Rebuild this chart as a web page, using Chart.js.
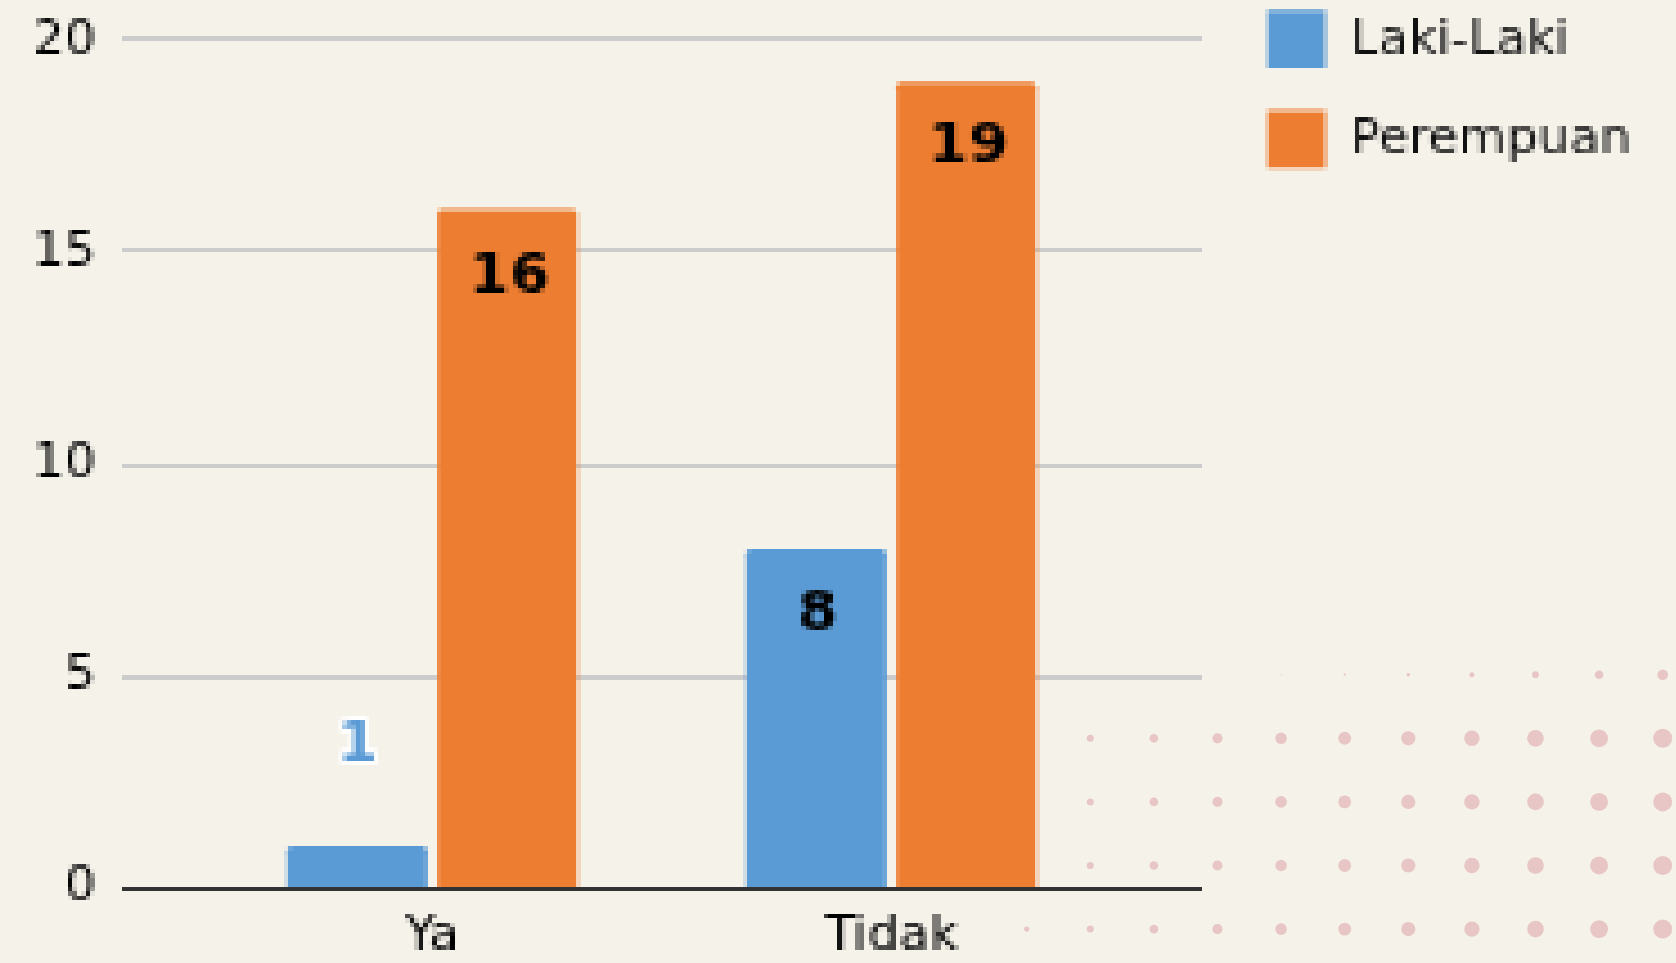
<!DOCTYPE html>
<html>
<head>
<meta charset="utf-8">
<script src="https://cdn.jsdelivr.net/npm/chart.js@4.4.1/dist/chart.umd.min.js"></script>
<style>
html,body{margin:0;padding:0;overflow:hidden;background:#f5f2ea;width:1676px;height:963px;}
#dots{position:absolute;left:0;top:0;}
#wrap{position:absolute;left:0;top:0;width:1674px;height:972px;}
#chart{image-rendering:pixelated;}
</style>
</head>
<body>
<canvas id="dots" width="1676" height="963"></canvas>
<div id="wrap"><canvas id="chart"></canvas></div>
<script>
// ---- data ----
const categories = ['Ya', 'Tidak'];
const seriesNames = ['Laki-Laki', 'Perempuan'];
const lakiLaki = [1, 8];
const perempuan = [16, 19];
const yTicks = [0, 5, 10, 15, 20];

// ---- decorative dot pattern (background, not data) ----
(function () {
  const c = document.getElementById('dots').getContext('2d');
  c.fillStyle = '#e8c6c6';
  for (let j = 0; j < 5; j++) {
    const y = 674.7 + 63.6 * j;
    for (let i = 0; i < 11; i++) {
      const x = 1026.7 + 63.6 * i;
      let r = 2 + 7.5 * Math.pow((x - 1000) / 662, 0.8);
      if (j === 0) r *= Math.max(0, (x - 1195) / 835);
      if (r < 0.3) continue;
      c.beginPath();
      c.arc(x, y, r, 0, Math.PI * 2);
      c.fill();
    }
  }
})();

const FONT = "'DejaVu Sans', sans-serif";
const PAD_RIGHT = 33;
const AREA_LEFT = 202.5;
const AREA_RIGHT = 1120.5;
const gridColor = (ctx) => (ctx.tick && ctx.tick.value === 0 ? '#333333' : '#cccccc');

const valueLabels = {
  id: 'valueLabels',
  afterDatasetsDraw(chart) {
    const ctx = chart.ctx;
    ctx.save();
    ctx.font = 'bold 57px ' + FONT;
    ctx.textAlign = 'center';
    ctx.textBaseline = 'middle';
    chart.data.datasets.forEach((ds, di) => {
      const meta = chart.getDatasetMeta(di);
      meta.data.forEach((bar, i) => {
        const txt = String(ds.data[i]);
        const h = bar.base - bar.y;
        if (h > 120) {
          ctx.fillStyle = '#000';
          ctx.fillText(txt, bar.x + 2, bar.y + 67);
        } else {
          ctx.lineWidth = 9;
          ctx.lineJoin = 'round';
          ctx.strokeStyle = '#ffffff';
          ctx.strokeText(txt, bar.x, bar.y - 101);
          ctx.fillStyle = ds.backgroundColor;
          ctx.fillText(txt, bar.x, bar.y - 101);
        }
      });
    });
    ctx.restore();
  }
};

Chart.defaults.font.family = FONT;

new Chart(document.getElementById('chart'), {
  type: 'bar',
  data: {
    labels: categories,
    datasets: [
      { label: seriesNames[0], data: lakiLaki, backgroundColor: '#5b9bd5', borderWidth: 0,
        borderRadius: 5, categoryPercentage: 0.654, barPercentage: 0.933 },
      { label: seriesNames[1], data: perempuan, backgroundColor: '#ed7d31', borderWidth: 0,
        borderRadius: 5, categoryPercentage: 0.654, barPercentage: 0.933 }
    ]
  },
  options: {
    responsive: true,
    maintainAspectRatio: false,
    animation: false,
    devicePixelRatio: 0.22223,
    layout: { padding: { top: -32, left: 0, right: PAD_RIGHT, bottom: 0 } },
    plugins: {
      legend: {
        position: 'right',
        align: 'start',
        maxWidth: 480,
        labels: { boxWidth: 58, boxHeight: 58, padding: 42, color: '#111',
                  font: { family: FONT, size: 49.5 } }
      },
      tooltip: { enabled: false }
    },
    scales: {
      x: {
        grid: { display: false, drawTicks: false },
        border: { display: false },
        ticks: { padding: 20, color: '#000', font: { family: FONT, size: 49.5 } },
        afterFit(s) { s.height = 83; }
      },
      y: {
        min: yTicks[0], max: yTicks[yTicks.length - 1],
        ticks: { stepSize: yTicks[1] - yTicks[0], padding: 26.2, color: '#000',
                 font: { family: FONT, size: 49.5 } },
        grid: { color: gridColor, lineWidth: 4.5, drawTicks: true, tickLength: 81 },
        border: { display: false },
        afterFit(s) { s.width = AREA_LEFT; s.paddingTop = 39.3; s.paddingBottom = 0; }
      },
      y2: {
        type: 'linear',
        position: 'right',
        min: yTicks[0], max: yTicks[yTicks.length - 1],
        ticks: { display: false, stepSize: yTicks[1] - yTicks[0] },
        grid: { color: gridColor, lineWidth: 4.5, drawTicks: true, tickLength: 81, drawOnChartArea: false },
        border: { display: false },
        afterFit(s) {
          const lw = s.chart.legend ? s.chart.legend.width : 0;
          s.width = Math.max(81, s.chart.width - PAD_RIGHT - lw - AREA_RIGHT);
        }
      }
    }
  },
  plugins: [valueLabels]
});
</script>
</body>
</html>
